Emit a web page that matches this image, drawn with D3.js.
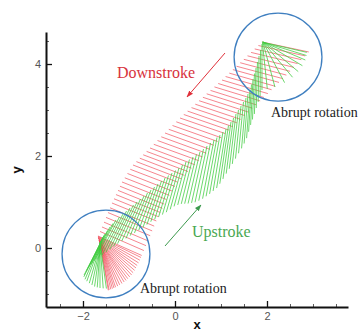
<!DOCTYPE html>
<html><head><meta charset="utf-8">
<script src="https://cdn.jsdelivr.net/npm/d3@7"></script>
<style>body{margin:0;background:#fff}svg{display:block}</style>
</head><body>
<script>
// Downstroke chord lines: leading-edge x, y and pitch angle (deg)
const downX = [1.891,1.813,1.733,1.654,1.576,1.496,1.417,1.337,1.259,1.180,1.100,1.022,0.939,0.857,0.772,0.689,0.607,0.524,0.441,0.359,0.274,0.191,0.109,0.028,-0.054,-0.135,-0.217,-0.298,-0.380,-0.461,-0.543,-0.617,-0.691,-0.765,-0.839,-0.913,-0.972,-1.033,-1.091,-1.152,-1.196,-1.239,-1.283,-1.326,-1.370,-1.413,-1.457,-1.500,-1.543,-1.587,-1.630,-1.674,
  -1.674,-1.674,-1.674,-1.674,-1.668,-1.663,-1.658,-1.652,-1.652,-1.652,-1.646,-1.641,-1.641,-1.641,-1.635,-1.630,-1.630,-1.630,-1.630,-1.630,-1.630];
const downY = [4.478,4.402,4.328,4.252,4.178,4.102,4.028,3.952,3.878,3.802,3.728,3.652,3.576,3.502,3.426,3.352,3.276,3.202,3.126,3.052,2.976,2.902,2.826,2.743,2.663,2.580,2.500,2.417,2.337,2.254,2.174,2.100,2.026,1.952,1.878,1.804,1.711,1.620,1.526,1.435,1.343,1.252,1.161,1.070,0.978,0.874,0.770,0.665,0.561,0.457,0.359,0.261,
  0.250,0.239,0.228,0.217,0.207,0.196,0.185,0.174,0.168,0.163,0.157,0.152,0.146,0.141,0.135,0.130,0.125,0.120,0.115,0.109,0.104];
const downAngle = [-12,-12.5,-13,-13.5,-14,-14.5,-15,-15,-15.5,-16,-16,-16.5,-17,-17,-17.5,-17.5,-18,-18,-18.5,-18.5,-19,-19,-19,-19.5,-19.5,-19.5,-20,-20,-20,-20,-20.5,-20.5,-20.5,-21,-21,-21,-21,-21.5,-21.5,-21.5,-22,-22,-22,-22,-22,-22.5,-22.5,-22.5,-23,-23,-23.5,-24,
  -26,-29,-32,-35,-38,-41,-44,-47,-50,-53,-56,-59,-62,-65,-68,-71,-73,-75,-77,-79,-80];
const downLen = 1.04;

// Upstroke chord lines: leading-edge x, y, pitch angle (deg) and visible chord length
const upX = [-1.630,-1.630,-1.630,-1.620,-1.609,-1.598,-1.587,-1.576,-1.565,-1.543,
  -1.522,-1.467,-1.413,-1.348,-1.283,-1.207,-1.130,-1.054,-0.978,-0.902,-0.826,-0.750,-0.674,-0.598,-0.522,-0.446,-0.370,-0.293,-0.217,-0.141,-0.065,0.011,0.087,0.163,0.239,0.315,0.391,0.467,0.543,0.620,0.696,0.772,0.848,0.913,0.978,1.043,1.109,1.163,1.217,1.272,1.326,1.380,1.435,1.489,1.543,1.587,1.630,1.663,1.696,1.728,1.761,1.793,1.826,1.859,1.891,
  1.902,1.913,1.913,1.913,1.913,1.913,1.913,1.902,1.891];
const upY = [0.109,0.120,0.130,0.141,0.152,0.174,0.196,0.217,0.239,0.272,
  0.304,0.380,0.457,0.533,0.609,0.674,0.739,0.804,0.870,0.935,1.000,1.065,1.130,1.196,1.261,1.326,1.391,1.457,1.522,1.576,1.630,1.685,1.739,1.804,1.870,1.924,1.978,2.033,2.087,2.152,2.217,2.283,2.348,2.402,2.457,2.522,2.587,2.663,2.739,2.826,2.913,3.000,3.087,3.174,3.261,3.348,3.435,3.554,3.674,3.793,3.913,4.043,4.174,4.304,4.435,
  4.457,4.467,4.478,4.478,4.478,4.478,4.478,4.478,4.478];
const upAngle = [-82,-86,-90,-94,-98,-102,-106,-110,-113,-116,
  -117,-117.5,-118,-118,-118,-117.5,-117,-116.5,-116,-115.5,-115,-114,-113,-112,-111,-110,-109,-108.5,-108,-107.5,-107,-106.5,-106,-105.5,-105,-104.5,-104,-103.5,-103,-102.5,-102,-101.5,-101,-100.5,-100,-99.5,-99,-98.5,-98,-97.5,-97,-96.5,-96,-95.5,-95,-94.5,-94,-93.5,-93,-92.5,-92,-91.5,-91,-90.5,-90,
  -84,-75,-62,-50,-40,-31,-23,-17,-13];
const upLen = [1,1,1,1,1,1,1,1,1,1,
  1,1,1,1,1,1,1,1,1,1,1,1,1,1,1,1,1,1,1,1,1,1,1,1,
  1,1.02,1.05,1.1,1.15,1.2,1.25,1.28,1.3,1.3,1.3,1.3,1.3,1.28,1.25,1.22,1.2,1.18,1.15,1.12,1.1,1.08,1.05,1.03,1,
  1,1,1,1,1,1,
  1,1,1,1,1,1,1,1,1];

const xMajor = [-2, 0, 2];
const xMinor = [-2.5,-1.5,-1,-0.5,0.5,1,1.5,2.5,3,3.5];
const yMajor = [0, 2, 4];
const yMinor = [-1,-0.5,0.5,1,1.5,2.5,3,3.5,4.5];

const circleCX = [-1.5, 2.24];
const circleCY = [-0.13, 4.15];
const circleR = 0.955;

const labels = [
  {text:"Downstroke", x:-1.261, y:3.696, cls:"red"},
  {text:"Upstroke", x:0.370, y:0.239, cls:"green"},
  {text:"Abrupt rotation", x:2.087, y:2.848, cls:"black"},
  {text:"Abrupt rotation", x:-0.761, y:-0.978, cls:"black"}
];
const arrowFrom = [[1.087,4.239],[-0.217,0.043]];
const arrowTo = [[0.261,3.283],[0.565,0.935]];
const arrowColor = ["#e0303a","#3d9a4e"];

const W = 360, H = 333;
const x = d3.scaleLinear().domain([-2.804, 3.761]).range([46, 348]);
const y = d3.scaleLinear().domain([-1.283, 4.696]).range([307, 32]);

const svg = d3.select("body").append("svg").attr("width", W).attr("height", H);
const defs = svg.append("defs");
arrowColor.forEach((c,i)=>{
  defs.append("marker").attr("id","ah"+i).attr("viewBox","0 0 10 10").attr("refX",9).attr("refY",5)
    .attr("markerWidth",7).attr("markerHeight",7).attr("orient","auto")
    .append("path").attr("d","M0,1.5L10,5L0,8.5Z").attr("fill",c);
});

function segs(X,Y,A,L){
  return X.map((v,i)=>{const t=A[i]*Math.PI/180, c=(typeof L==="number")?L:L[i];
    return {x1:v,y1:Y[i],x2:v+c*Math.cos(t),y2:Y[i]+c*Math.sin(t)};});
}
const g = svg.append("g");
g.selectAll("line.dn").data(segs(downX,downY,downAngle,downLen)).join("line").attr("class","dn")
  .attr("x1",d=>x(d.x1)).attr("y1",d=>y(d.y1)).attr("x2",d=>x(d.x2)).attr("y2",d=>y(d.y2))
  .attr("stroke","#f0404e").attr("stroke-opacity",0.85).attr("stroke-width",0.75);
g.selectAll("line.up").data(segs(upX,upY,upAngle,upLen)).join("line").attr("class","up")
  .attr("x1",d=>x(d.x1)).attr("y1",d=>y(d.y1)).attr("x2",d=>x(d.x2)).attr("y2",d=>y(d.y2))
  .attr("stroke","#3fcc3f").attr("stroke-opacity",0.85).attr("stroke-width",0.9);

svg.selectAll("ellipse.c").data(circleCX).join("ellipse").attr("class","c")
  .attr("cx",(d)=>x(d)).attr("cy",(d,i)=>y(circleCY[i]))
  .attr("rx",x(circleR)-x(0)).attr("ry",y(0)-y(circleR))
  .attr("fill","none").attr("stroke","#3f7fc0").attr("stroke-width",1.3);

svg.selectAll("line.ar").data(arrowFrom).join("line").attr("class","ar")
  .attr("x1",d=>x(d[0])).attr("y1",d=>y(d[1]))
  .attr("x2",(d,i)=>x(arrowTo[i][0])).attr("y2",(d,i)=>y(arrowTo[i][1]))
  .attr("stroke",(d,i)=>arrowColor[i]).attr("stroke-width",1)
  .attr("marker-end",(d,i)=>"url(#ah"+i+")");

const colors = {red:"#d8323c", green:"#4aa852", black:"#222"};
svg.selectAll("text.lab").data(labels).join("text").attr("class","lab")
  .attr("x",d=>x(d.x)).attr("y",d=>y(d.y)).text(d=>d.text)
  .attr("font-family","'Liberation Serif','Times New Roman',serif")
  .attr("font-size",d=>d.cls==="black"?14:16).attr("fill",d=>colors[d.cls]);

// axes
function axisStyle(sel){
  sel.select(".domain").attr("stroke","#111").attr("stroke-width",2);
  sel.selectAll(".tick line").attr("stroke","#111").attr("stroke-width",1.3);
  sel.selectAll(".tick text").attr("fill","#555").attr("font-size",11)
    .attr("font-family","'Liberation Sans',Arial,sans-serif");
}
const xMinorAxis = svg.append("g").attr("transform","translate(0,307)")
  .call(d3.axisBottom(x).tickValues(xMinor).tickSize(-3).tickFormat(""));
xMinorAxis.select(".domain").remove();
xMinorAxis.selectAll(".tick line").attr("stroke","#333").attr("stroke-width",0.8);
const yMinorAxis = svg.append("g").attr("transform","translate(46,0)")
  .call(d3.axisLeft(y).tickValues(yMinor).tickSize(-3).tickFormat(""));
yMinorAxis.select(".domain").remove();
yMinorAxis.selectAll(".tick line").attr("stroke","#333").attr("stroke-width",0.8);

const xa = svg.append("g").attr("transform","translate(0,307)")
  .call(d3.axisBottom(x).tickValues(xMajor).tickSizeInner(-6).tickSizeOuter(0).tickPadding(5).tickFormat(d3.format("d")));
axisStyle(xa);
const ya = svg.append("g").attr("transform","translate(46,0)")
  .call(d3.axisLeft(y).tickValues(yMajor).tickSizeInner(-6).tickSizeOuter(0).tickPadding(5).tickFormat(d3.format("d")));
axisStyle(ya);

svg.append("text").attr("x",197).attr("y",329).attr("text-anchor","middle").text("x")
  .attr("font-family","'Liberation Sans',Arial,sans-serif").attr("font-weight","bold").attr("font-size",13).attr("fill","#111");
svg.append("text").attr("transform","translate(21,170) rotate(-90)").attr("text-anchor","middle").text("y")
  .attr("font-family","'Liberation Sans',Arial,sans-serif").attr("font-weight","bold").attr("font-size",13).attr("fill","#111");
</script>
</body></html>
